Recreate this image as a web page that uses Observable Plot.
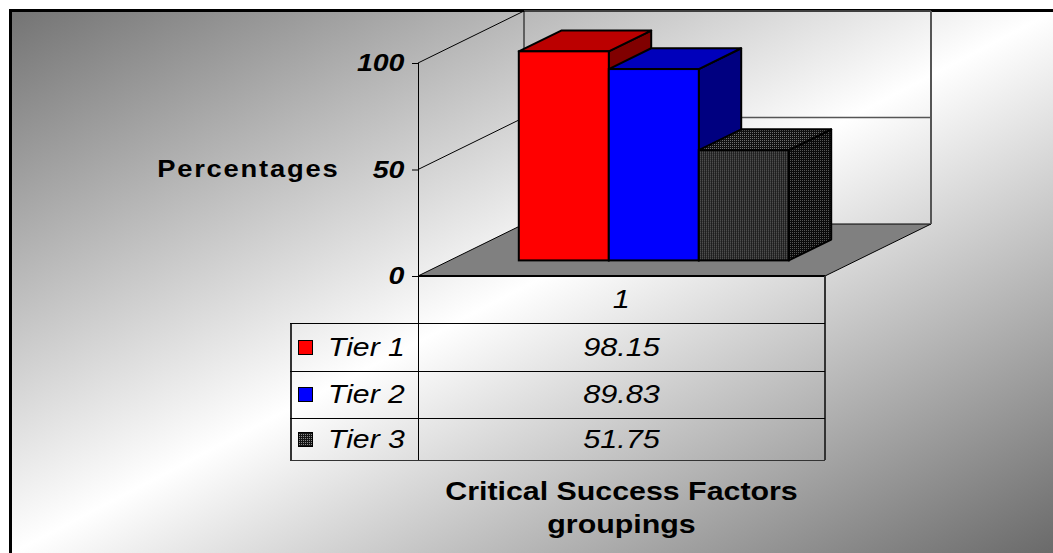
<!DOCTYPE html>
<html>
<head>
<meta charset="utf-8">
<script src="https://cdn.jsdelivr.net/npm/d3@7"></script>
<script src="https://cdn.jsdelivr.net/npm/@observablehq/plot@0.6"></script>
<style>
  html, body { margin: 0; padding: 0; background: #fff; }
  #wrap { position: relative; width: 1053px; height: 553px; overflow: hidden;
          font-family: "Liberation Sans", Arial, sans-serif; }
  #bg { position: absolute; left: 9px; top: 9px; width: 1044px; height: 544px; box-sizing: border-box;
        border-top: 3px solid #000; border-left: 3px solid #000;
        background: linear-gradient(to bottom right, #747474 0%, #ffffff 50%, #6a6a6a 100%); }
  #chart { position: absolute; left: 0; top: 0; }
  #chart svg { overflow: visible; }
  #table { position: absolute; left: 0; top: 0; }
  .ln { position: absolute; background: #000; }
  .cell { position: absolute; display: flex; align-items: center; justify-content: center;
          font-style: italic; font-size: 26px; color: #000; white-space: nowrap; }
  .cell span { display: inline-block; transform: scaleX(1.18); transform-origin: center; }
  .lab { position: absolute; display: flex; align-items: center; font-style: italic; font-size: 26px;
         color: #000; white-space: nowrap; }
  .lab .tx { display: inline-block; transform: scaleX(1.16); transform-origin: left center; }
  .sw { display: inline-block; width: 15px; height: 15px; box-sizing: border-box; border: 1.5px solid #000;
        margin-right: 15px; flex: none; }
  #title { position: absolute; left: 400px; width: 443px; top: 475px; text-align: center; white-space: nowrap;
           font-weight: bold; font-size: 25.5px; line-height: 33px; color: #000;
           transform: scaleX(1.19); transform-origin: center; }
</style>
</head>
<body>
<div id="wrap">
  <div id="bg"></div>
  <div id="chart"></div>
  <div id="table"></div>
  <div id="title">Critical Success Factors<br>groupings</div>
</div>
<script>
// ---- data ----
const category = "1";
const tiers = ["Tier 1", "Tier 2", "Tier 3"];
const values = [98.15, 89.83, 51.75];
const yTicks = [0, 50, 100];
const yLabel = "Percentages";

// ---- styles ----
const frontFill = ["#ff0000", "#0000ff", "url(#dots-front)"];
const topFill   = ["#bb0000", "#0000bb", "url(#dots-top)"];
const sideFill  = ["#800000", "#000080", "url(#dots-side)"];
const DEPTH = [106, -52];       // projected floor depth (px)
const BAR_FRONT = 0.3, BAR_BACK = 0.7;
const STRETCH = 1.19;           // horizontal text stretch of the original

const data = tiers.map((t, i) => ({tier: t, value: values[i], i}));

function defsMark() {
  const defs = d3.create("svg:defs");
  const mk = (id, bg, dot) => {
    const p = defs.append("pattern").attr("id", id).attr("width", 2).attr("height", 2)
      .attr("patternUnits", "userSpaceOnUse");
    p.append("rect").attr("width", 2).attr("height", 2).attr("fill", bg);
    p.append("rect").attr("width", 1).attr("height", 1).attr("fill", dot);
  };
  mk("dots-front", "#151515", "#8a8a8a");
  mk("dots-top", "#101010", "#6e6e6e");
  mk("dots-side", "#0a0a0a", "#555555");
  return defs.node();
}

function bw(x) { return typeof x.bandwidth === "function" ? x.bandwidth() : x.bandwidth; }

function wallsMark(index, scales, values, dims) {
  const {y} = scales;
  const L = dims.marginLeft, R = dims.width - dims.marginRight;
  const [dx, dy] = DEPTH;
  const g = d3.create("svg:g");
  const y0 = y(0), yTop = y(d3.max(yTicks));
  // floor
  g.append("path")
    .attr("d", `M${L},${y0}L${R},${y0}L${R + dx},${y0 + dy}L${L + dx},${y0 + dy}Z`)
    .attr("fill", "#808080").attr("stroke", "#000").attr("stroke-width", 1);
  g.append("line").attr("x1", L).attr("x2", R).attr("y1", y0).attr("y2", y0)
    .attr("stroke", "#000").attr("stroke-width", 2);
  // gridlines on left and back walls
  for (const t of yTicks.filter(t => t > 0)) {
    g.append("line").attr("x1", L).attr("y1", y(t)).attr("x2", L + dx).attr("y2", y(t) + dy)
      .attr("stroke", "#000").attr("stroke-width", 1);
    g.append("line").attr("x1", L + dx).attr("y1", y(t) + dy).attr("x2", R + dx).attr("y2", y(t) + dy)
      .attr("stroke", "#555").attr("stroke-width", 1.5);
  }
  // back wall vertical edges
  g.append("line").attr("x1", L + dx).attr("x2", L + dx).attr("y1", y0 + dy).attr("y2", yTop + dy)
    .attr("stroke", "#000").attr("stroke-width", 1);
  g.append("line").attr("x1", R + dx).attr("x2", R + dx).attr("y1", y0 + dy).attr("y2", yTop + dy)
    .attr("stroke", "#555").attr("stroke-width", 2);
  return g.node();
}

function facesMark(index, scales) {
  const {x, y} = scales;
  const w = bw(x);
  const f = [DEPTH[0] * BAR_FRONT, DEPTH[1] * BAR_FRONT];
  const b = [DEPTH[0] * BAR_BACK, DEPTH[1] * BAR_BACK];
  const g = d3.create("svg:g").attr("stroke", "#000").attr("stroke-width", 2).attr("stroke-linejoin", "round");
  for (const d of data) {
    const x0 = x(d.tier), x1 = x0 + w, yv = y(d.value), y0 = y(0);
    // side face
    g.append("path").attr("fill", sideFill[d.i])
      .attr("d", `M${x1 + f[0]},${yv + f[1]}L${x1 + b[0]},${yv + b[1]}L${x1 + b[0]},${y0 + b[1]}L${x1 + f[0]},${y0 + f[1]}Z`);
    // top face
    g.append("path").attr("fill", topFill[d.i])
      .attr("d", `M${x0 + f[0]},${yv + f[1]}L${x1 + f[0]},${yv + f[1]}L${x1 + b[0]},${yv + b[1]}L${x0 + b[0]},${yv + b[1]}Z`);
  }
  return g.node();
}

const plot = Plot.plot({
  width: 1053,
  height: 553,
  marginLeft: 418,
  marginRight: 228,
  marginTop: 63,
  marginBottom: 277,
  style: {background: "transparent", fontFamily: "'Liberation Sans', Arial, sans-serif", color: "#000"},
  x: {type: "band", domain: tiers, paddingInner: 0, paddingOuter: 0.75, axis: null},
  y: {domain: [0, 100], axis: null},
  color: {domain: tiers, range: frontFill},
  marks: [
    defsMark,
    wallsMark,
    Plot.frame({anchor: "left", stroke: "#000", strokeWidth: 1}),
    Plot.axisY(yTicks, {anchor: "left", tickSize: 6, tickPadding: 8, label: null,
      fontSize: 24, fontWeight: "bold", fontStyle: "italic", stroke: "#000"}),
    Plot.text([yLabel], {frameAnchor: "left", dx: -79, textAnchor: "end",
      fontSize: 23, fontWeight: "bold", fill: "#000"}),
    facesMark,
    Plot.barY(data, {x: "tier", y: "value", fill: "tier", stroke: "#000", strokeWidth: 2,
      dx: DEPTH[0] * BAR_FRONT, dy: DEPTH[1] * BAR_FRONT})
  ]
});
document.getElementById("chart").appendChild(plot);

// stretch the SVG texts horizontally like the original rendering
function stretchText(sel, spacing) {
  sel.each(function () {
    const t = this.getAttribute("transform") || "";
    this.setAttribute("transform", (t + ` scale(${STRETCH},1)`).trim());
    if (spacing) this.style.letterSpacing = spacing;
  });
}
stretchText(d3.select(plot).selectAll('g[aria-label="y-axis tick label"] text'));
stretchText(d3.select(plot).selectAll("text").filter(function () { return this.textContent === yLabel; }), "1.5px");

// ---- data table (aligned with the plot frame) ----
const table = d3.select("#table");
const L = 418, R = 825, LL = 290;
const rowEdges = [276, 323, 371, 418, 460];
const line = (x, y, w, h, c = "#000") => table.append("div").attr("class", "ln")
  .style("left", x + "px").style("top", y + "px").style("width", w + "px").style("height", h + "px")
  .style("background", c);
line(L - 0.5, rowEdges[0], 1, rowEdges[4] - rowEdges[0]);
line(R - 1, rowEdges[0], 1.5, rowEdges[4] - rowEdges[0], "#333");
line(LL, rowEdges[1], 1.5, rowEdges[4] - rowEdges[1], "#333");
for (let k = 1; k < rowEdges.length; k++) line(LL, rowEdges[k] - 0.5, R - LL, 1, k === 4 ? "#333" : "#000");
// header cell
table.append("div").attr("class", "cell")
  .style("left", L + "px").style("width", (R - L) + "px")
  .style("top", rowEdges[0] + "px").style("height", (rowEdges[1] - rowEdges[0]) + "px")
  .append("span").text(category);
tiers.forEach((t, i) => {
  const top = rowEdges[i + 1], h = rowEdges[i + 2] - rowEdges[i + 1];
  const lab = table.append("div").attr("class", "lab")
    .style("left", (LL + 8) + "px").style("top", top + "px").style("height", h + "px");
  const sw = lab.append("span").attr("class", "sw");
  if (i < 2) sw.style("background", frontFill[i]);
  else sw.style("background-color", "#151515")
    .style("background-image", "linear-gradient(45deg, #8a8a8a 25%, transparent 25%)")
    .style("background-size", "2px 2px");
  lab.append("span").attr("class", "tx").text(t);
  table.append("div").attr("class", "cell")
    .style("left", L + "px").style("width", (R - L) + "px")
    .style("top", top + "px").style("height", h + "px")
    .append("span").text(values[i].toFixed(2));
});
</script>
</body>
</html>
